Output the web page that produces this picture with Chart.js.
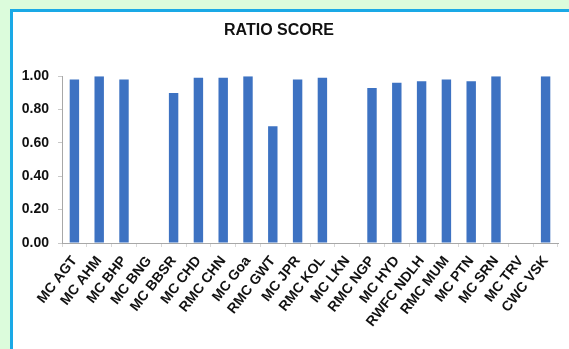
<!DOCTYPE html>
<html>
<head>
<meta charset="utf-8">
<script src="https://cdn.jsdelivr.net/npm/chart.js@4"></script>
<style>
  html, body { margin: 0; padding: 0; width: 569px; height: 349px; overflow: hidden; background: #dcfcdc; }
  #panel { position: absolute; left: 10px; top: 9px; width: 600px; height: 400px; background: #ffffff;
           border-left: 3px solid #1aa9e6; border-top: 3px solid #1aa9e6; }
  #wrap { position: absolute; left: 0; top: 0; width: 569px; height: 349px; }
</style>
</head>
<body>
<div id="panel"></div>
<div id="wrap"><canvas id="c" width="569" height="349"></canvas></div>
<script>
// Centres and their ratio scores (null = no score reported)
const centres = ["MC AGT", "MC AHM", "MC BHP", "MC BNG", "MC BBSR", "MC CHD", "RMC CHN", "MC Goa",
  "RMC GWT", "MC JPR", "RMC KOL", "MC LKN", "RMC NGP", "MC HYD", "RWFC NDLH", "RMC MUM",
  "MC PTN", "MC SRN", "MC TRV", "CWC VSK"];
const ratioScores = [0.98, 1.00, 0.98, null, 0.90, 0.99, 0.99, 1.00,
  0.70, 0.98, 0.99, null, 0.93, 0.96, 0.97, 0.98,
  0.97, 1.00, null, 1.00];
const yTicks = [0, 0.2, 0.4, 0.6, 0.8, 1.0];

const family = "'Liberation Sans', Arial, sans-serif";

new Chart(document.getElementById("c"), {
  type: "bar",
  data: {
    labels: centres,
    datasets: [{
      label: "Ratio score",
      data: ratioScores,
      backgroundColor: "#3d72c2",
      borderWidth: 0,
      barPercentage: 0.38,
      categoryPercentage: 1.0
    }]
  },
  options: {
    responsive: false,
    animation: false,
    layout: { padding: { left: 0, right: 11, top: 0, bottom: 0 } },
    plugins: {
      legend: { display: false },
      tooltip: { enabled: false },
      title: {
        display: true,
        text: "RATIO SCORE",
        color: "#111",
        font: { family, weight: "bold", size: 16 },
        padding: { top: 21, bottom: 36 }
      }
    },
    scales: {
      x: {
        afterFit: (s) => { s.height = 106; },
        grid: { offset: true, drawOnChartArea: false, drawTicks: true, tickLength: 4, color: "#d8d8d8" },
        border: { display: true, color: "#a8a8a8" },
        ticks: { color: "#111", font: { family, weight: "bold", size: 14 },
                 minRotation: 52, maxRotation: 52, autoSkip: false, padding: 6 }
      },
      y: {
        min: 0,
        max: 1.0,
        afterFit: (s) => { s.width = 62; },
        afterBuildTicks: (s) => { s.ticks = yTicks.map(v => ({ value: v })); },
        grid: { drawOnChartArea: false, drawTicks: true, tickLength: 4, color: "#c8c8c8" },
        border: { display: true, color: "#a8a8a8" },
        ticks: { color: "#111", font: { family, weight: "bold", size: 14 },
                 padding: 9, callback: (v) => Number(v).toFixed(2) }
      }
    }
  }
});
</script>
</body>
</html>
